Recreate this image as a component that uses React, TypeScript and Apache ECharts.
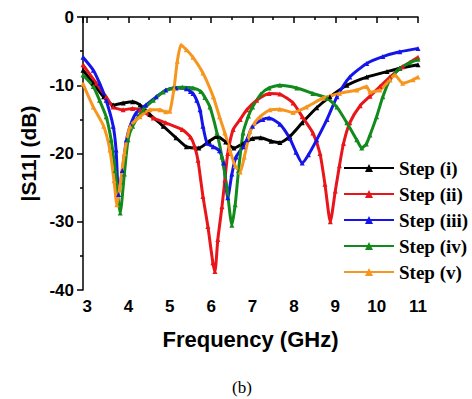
import React, { useEffect, useRef } from "react";
import * as echarts from "echarts";

const seriesNames = ["Step (i)", "Step (ii)", "Step (iii)", "Step (iv)", "Step (v)"];
const seriesColors = ["#000000", "#e8151b", "#1515ea", "#138a1c", "#f7961f"];

const stepI: number[][] = [
  [2.9, -7.8], [3.15, -9.7], [3.4, -11.7], [3.63, -12.9], [3.87, -12.6], [4.1, -12.4],
  [4.28, -12.9], [4.52, -14.3], [4.84, -16.0], [5.15, -17.7], [5.4, -19.0], [5.7, -19.2],
  [5.95, -18.2], [6.15, -17.5], [6.35, -18.3], [6.55, -19.2], [6.75, -18.6], [7.0, -17.8],
  [7.2, -17.7], [7.45, -18.2], [7.66, -18.4], [7.9, -17.5], [8.2, -15.5], [8.55, -13.3],
  [8.87, -11.7], [9.28, -10.0], [9.76, -8.8], [10.25, -8.0], [10.56, -7.5], [11.0, -7.0],
];

const stepII: number[][] = [
  [2.9, -7.0], [3.22, -9.7], [3.46, -11.7], [3.63, -13.2], [3.87, -13.6], [4.1, -13.4],
  [4.28, -13.6], [4.6, -14.8], [4.9, -15.5], [5.3, -16.5], [5.5, -17.6], [5.6, -19.0],
  [5.68, -21.0], [5.8, -26.3], [5.92, -30.7], [6.04, -36.0], [6.09, -37.3], [6.16, -32.6],
  [6.26, -27.8], [6.33, -23.9], [6.4, -20.0], [6.53, -16.5], [6.7, -15.0], [6.86, -13.6],
  [7.1, -12.2], [7.4, -11.2], [7.66, -11.3], [7.98, -12.6], [8.2, -14.6], [8.46, -17.0],
  [8.63, -20.0], [8.75, -24.5], [8.88, -30.0], [9.0, -25.5], [9.1, -21.8], [9.2, -18.5],
  [9.35, -15.5], [9.6, -13.0], [9.84, -11.6], [10.08, -10.2], [10.32, -8.8], [10.63, -7.3],
  [11.0, -5.9],
];

const stepIII: number[][] = [
  [2.9, -5.9], [3.15, -7.8], [3.3, -9.7], [3.46, -12.2], [3.63, -16.0], [3.7, -19.5],
  [3.76, -26.0], [3.85, -22.5], [3.95, -18.0], [4.05, -15.8], [4.18, -14.1], [4.42, -12.9],
  [4.67, -11.7], [4.9, -10.7], [5.15, -10.4], [5.4, -10.5], [5.5, -10.9], [5.56, -11.2],
  [5.65, -12.2], [5.73, -13.6], [5.8, -16.0], [5.9, -18.5], [6.05, -19.0], [6.2, -19.6],
  [6.3, -21.4], [6.4, -26.5], [6.5, -23.0], [6.6, -20.5], [6.77, -19.0], [6.86, -18.0],
  [7.0, -16.0], [7.25, -15.0], [7.4, -14.8], [7.66, -15.7], [7.9, -17.8], [8.05, -19.8],
  [8.2, -21.4], [8.35, -20.2], [8.55, -18.0], [8.8, -15.0], [9.04, -11.7], [9.35, -8.8],
  [9.76, -6.8], [10.15, -5.8], [10.56, -5.1], [11.0, -4.6],
];

const stepIV: number[][] = [
  [2.9, -8.5], [3.15, -10.2], [3.3, -12.2], [3.46, -14.6], [3.58, -18.0], [3.68, -22.5],
  [3.8, -28.7], [3.9, -23.0], [3.99, -18.0], [4.1, -16.0], [4.35, -13.6], [4.6, -12.2],
  [4.84, -11.0], [5.08, -10.4], [5.3, -10.3], [5.56, -10.4], [5.75, -10.9], [5.85, -11.8],
  [5.97, -13.2], [6.14, -17.0], [6.26, -20.5], [6.38, -25.0], [6.5, -30.5], [6.58, -27.5],
  [6.66, -22.5], [6.77, -17.0], [6.9, -14.5], [7.0, -13.2], [7.2, -11.3], [7.4, -10.4],
  [7.66, -10.0], [8.07, -10.4], [8.46, -11.2], [8.8, -11.9], [9.04, -13.2], [9.28, -15.5],
  [9.52, -18.0], [9.64, -19.2], [9.75, -18.6], [9.84, -17.3], [10.0, -14.6], [10.15, -11.7],
  [10.32, -9.2], [10.56, -7.5], [10.8, -6.7], [11.0, -6.2],
];

const stepV: number[][] = [
  [2.9, -9.8], [3.15, -13.2], [3.4, -16.0], [3.55, -19.5], [3.65, -24.0], [3.72, -27.5],
  [3.8, -24.5], [3.9, -20.0], [4.04, -16.0], [4.28, -14.6], [4.52, -13.6], [4.76, -13.6],
  [4.9, -13.9], [5.0, -13.8], [5.1, -10.5], [5.18, -6.5], [5.27, -4.1], [5.4, -4.8],
  [5.56, -5.9], [5.8, -8.2], [6.05, -11.7], [6.2, -14.6], [6.33, -17.0], [6.45, -19.5],
  [6.58, -21.8], [6.7, -22.7], [6.8, -20.5], [6.94, -16.8], [7.05, -15.5], [7.18, -14.6],
  [7.42, -13.6], [7.66, -13.5], [7.98, -14.0], [8.3, -13.2], [8.7, -11.9], [9.1, -11.2],
  [9.52, -10.7], [9.76, -10.2], [9.84, -11.0], [10.08, -10.7], [10.32, -9.2], [10.44, -8.5],
  [10.63, -9.7], [10.88, -9.2], [11.0, -8.8],
];

const allSeries = [stepI, stepII, stepIII, stepIV, stepV];

const sansBold = "Arial, 'Liberation Sans', sans-serif";
const serif = "'Times New Roman', 'Liberation Serif', serif";

export default function App() {
  const ref = useRef<HTMLDivElement>(null);

  useEffect(() => {
    if (!ref.current) return;
    document.body.style.margin = "0";
    const chart = echarts.init(ref.current, undefined, { renderer: "svg" });
    chart.setOption({
      animation: false,
      backgroundColor: "#ffffff",
      grid: { left: 83, right: 54, top: 17, bottom: 109, containLabel: false },
      legend: {
        left: 343,
        top: 158,
        orient: "vertical",
        itemWidth: 50,
        itemHeight: 10,
        itemGap: 6,
        padding: 0,
        data: seriesNames,
        textStyle: {
          fontFamily: serif,
          fontWeight: "bold",
          fontSize: 19,
          lineHeight: 20,
          color: "#000",
        },
      },
      xAxis: {
        type: "value",
        min: 2.9,
        max: 11,
        splitNumber: 8,
        name: "Frequency (GHz)",
        nameLocation: "middle",
        nameGap: 38,
        nameTextStyle: { fontFamily: sansBold, fontWeight: "bold", fontSize: 22, color: "#000" },
        axisLine: { show: true, lineStyle: { color: "#000", width: 1.5 } },
        axisTick: { show: true, length: 6, lineStyle: { color: "#000", width: 1.5 } },
        minorTick: { show: true, splitNumber: 2, length: 3, lineStyle: { color: "#000", width: 1.5 } },
        splitLine: { show: false },
        axisLabel: {
          margin: 8,
          fontFamily: sansBold,
          fontWeight: "bold",
          fontSize: 17,
          color: "#000",
          formatter: (v: number) => (Math.abs(v - Math.round(v)) < 1e-6 ? String(Math.round(v)) : ""),
        },
      },
      yAxis: {
        type: "value",
        min: -40,
        max: 0,
        interval: 10,
        name: "|S11| (dB)",
        nameLocation: "middle",
        nameGap: 44,
        nameTextStyle: { fontFamily: sansBold, fontWeight: "bold", fontSize: 21, color: "#000" },
        axisLine: { show: true, lineStyle: { color: "#000", width: 1.5 } },
        axisTick: { show: true, length: 6, lineStyle: { color: "#000", width: 1.5 } },
        minorTick: { show: true, splitNumber: 2, length: 3, lineStyle: { color: "#000", width: 1.5 } },
        splitLine: { show: false },
        axisLabel: {
          margin: 9,
          fontFamily: sansBold,
          fontWeight: "bold",
          fontSize: 17,
          color: "#000",
        },
      },
      graphic: [
        {
          type: "text",
          left: 232,
          top: 379,
          style: { text: "(b)", fontFamily: serif, fontSize: 17, fill: "#000" },
        },
      ],
      series: allSeries.map((d, i) => ({
        name: seriesNames[i],
        type: "line",
        data: d,
        smooth: 0.2,
        symbol: "triangle",
        symbolSize: 5,
        showSymbol: true,
        color: seriesColors[i],
        lineStyle: { width: 3, color: seriesColors[i] },
        itemStyle: { color: seriesColors[i] },
      })),
    });
    return () => chart.dispose();
  }, []);

  return <div ref={ref} style={{ width: 472, height: 399 }} />;
}
